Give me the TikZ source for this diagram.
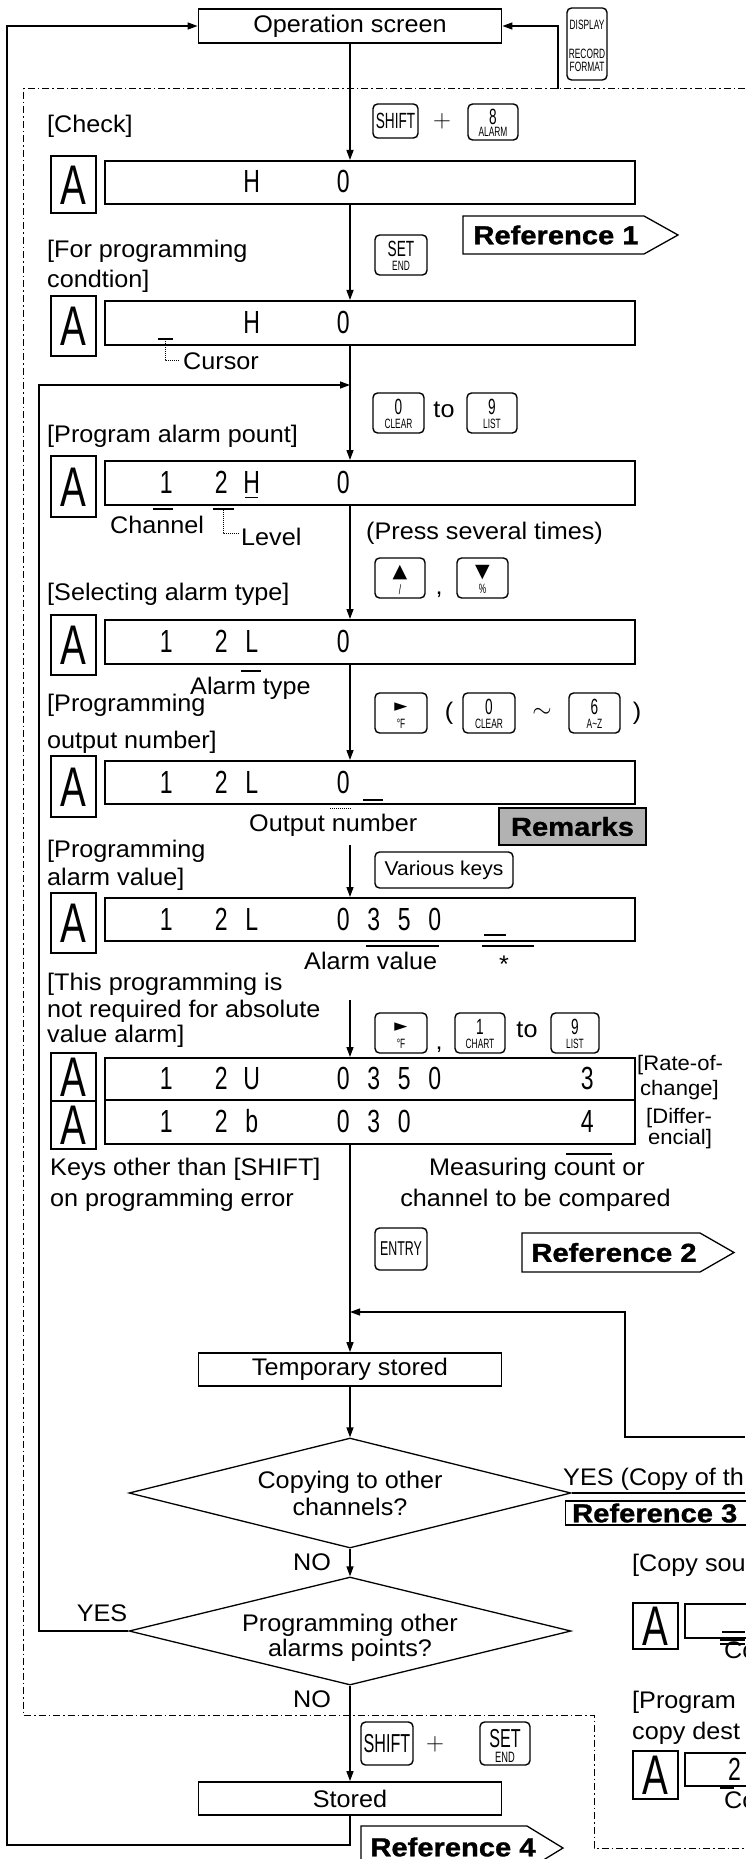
\documentclass[tikz,border=0pt]{standalone}
\usepackage{fontspec}
\usepackage{graphicx}
\setmainfont{Liberation Sans}[FakeStretch=1.05]
\newfontfamily\kf{Liberation Sans}[FakeStretch=0.62]
\newfontfamily\dispf{Liberation Sans}[FakeStretch=0.72]
\newfontfamily\afontf{Liberation Sans}[FakeStretch=0.92]
\newfontfamily\reff{Liberation Sans Bold}[FakeStretch=1.12,FakeBold=1.2]
\newfontfamily\symf{DejaVu Sans}
\usetikzlibrary{arrows.meta,shapes.geometric}
\newcommand\msz{\fontsize{24}{28}\selectfont}
\newcommand\ssz{\fontsize{21}{24}\selectfont}
\newcommand\vsz{\fontsize{20}{24}\selectfont}
\newcommand\dsz{\dispf\fontsize{32}{32}\selectfont}
\newcommand\asz{\afontf\fontsize{42}{42}\selectfont}
\newcommand\rsz{\reff\fontsize{26}{30}\selectfont}
\newcommand\kbig{\kf\fontsize{22}{22}\selectfont}
\newcommand\ksmall{\kf\fontsize{13.5}{13.5}\selectfont}
\newcommand\dcell[1]{\makebox[30.5pt]{#1}}
\newcommand\dcone{\makebox[30.5pt]{\hspace*{12pt}1}}
\newcommand\kkey[7]{%
  \node[keyb,minimum width=#4pt,minimum height=#5pt] (#1) at (#2,#3) {};
  \node[ktxt,font=\kbig] (#1t) at (#2,#3-0.14*#5) {#6};
  \node[ktxt,font=\ksmall] (#1b) at (#2,#3+0.28*#5) {#7};}
\newcommand\abx[4]{% name, x, top, height
  \node[abox,minimum height=#4pt] (#1) at (#2,#3) {};
  \node[atx] (#1t) at (#1.center) {\scalebox{1}[1.33]{A}};}
\begin{document}
\begin{tikzpicture}[x=1pt,y=-1pt,
  ln/.style={line width=1.3pt},
  conn/.style={line width=1.3pt,-{Triangle[length=10pt,width=7pt]}},
  bx/.style={draw,line width=1.8pt,minimum width=303pt,minimum height=33pt,font=\msz,inner sep=0pt},
  dbox/.style={draw,line width=1.8pt,anchor=north west,minimum width=530pt,inner sep=0pt},
  abox/.style={draw,line width=1.6pt,anchor=north west,minimum width=45pt,inner sep=0pt},
  atx/.style={inner sep=0pt,font=\asz,text height=40pt,text depth=0pt},
  dtx/.style={anchor=west,inner sep=0pt,font=\dsz,text height=23pt,text depth=0pt},
  keyb/.style={draw,line width=1.4pt,rounded corners=4.5pt,inner sep=0pt},
  ktxt/.style={inner sep=0pt},
  lb/.style={font=\msz,inner sep=0pt,anchor=west,text height=17pt,text depth=5pt},
  ct/.style={font=\msz,inner sep=0pt,text height=17pt,text depth=5pt},
  sl/.style={font=\ssz,inner sep=0pt,anchor=west,text height=15pt,text depth=4.5pt},
  dd/.style={line width=1pt,dash pattern=on 7pt off 3pt on 1.5pt off 3pt},
  mk/.style={line width=1.4pt},
  dl/.style={line width=0.8pt,dash pattern=on 1pt off 1pt},
  refb/.style={draw,line width=1.3pt,fill=white},
  rt/.style={font=\rsz,inner sep=0pt},
]
\fill[white] (0,0) rectangle (745,1859);
\useasboundingbox (0,0) rectangle (745,1859);

% dash-dot frame
\draw[dd] (745,89) -- (23,89) -- (23,1715) -- (594,1715) -- (594,1848) -- (745,1848);

% top
\node[bx,minimum height=34pt] (op) at (350,26) {Operation screen};
\node[keyb,minimum width=40pt,minimum height=72pt] (kd) at (587,44) {};
\node[ktxt,font=\kf\fontsize{13.5}{13.5}\selectfont] (kd1) at (587,25) {DISPLAY};
\node[ktxt,font=\kf\fontsize{13.5}{13.5}\selectfont] (kd2) at (587,54) {RECORD};
\node[ktxt,font=\kf\fontsize{13.5}{13.5}\selectfont] (kd3) at (587,67) {FORMAT};
\coordinate (dsp) at (558,89);
\draw[conn] (dsp) |- (op.east);

% check
\node[lb] (l1) at (47,127) {[Check]};
\node[keyb,minimum width=45pt,minimum height=34pt,font=\kf\fontsize{22}{22}\selectfont] (k1) at (395.5,121) {SHIFT};
\node[inner sep=0pt,font=\fontsize{30}{30}\selectfont] (p1) at (442,121) {$+$};
\kkey{k2}{493}{122}{50}{36}{8}{ALARM}

% displays
\node[dbox,minimum height=43pt] (d1) at (104,160) {};
\abx{a1}{50}{155}{57}
\node[dtx] (t1) at (144.75,181.5) {\dcell{}\dcell{}\dcell{}\dcell{H}\dcell{}\dcell{}\dcell{0}};

\draw[refb] (463,216) -- (644,216) -- (678,235) -- (644,254) -- (463,254) -- cycle;
\node[rt] (r1t) at (556,235) {Reference 1};

\node[lb] (l2a) at (47,252) {[For programming};
\node[lb] (l2b) at (47,282) {condtion]};
\kkey{k3}{401}{255}{52}{40}{SET}{END}

\node[dbox,minimum height=44pt] (d2) at (104,300) {};
\abx{a2}{50}{295}{60}
\node[dtx] (t2) at (144.75,322) {\dcell{}\dcell{}\dcell{}\dcell{H}\dcell{}\dcell{}\dcell{0}};
\draw[mk] (158,339) -- (173,339);
\draw[dl] (165,341) |- (180,360);
\node[lb] (lc) at (183,363) {Cursor};

\kkey{k4}{398.5}{413}{51}{40}{0}{CLEAR}
\node[ct] (to1) at (444,411) {to};
\kkey{k5}{492}{413}{50}{40}{9}{LIST}
\node[lb] (l3) at (47,436) {[Program alarm pount]};

\node[dbox,minimum height=44pt] (d3) at (104,460) {};
\abx{a3}{50}{455}{61}
\node[dtx] (t3) at (144.75,482) {\dcone\dcell{}\dcell{2}\dcell{H}\dcell{}\dcell{}\dcell{0}};
\draw[mk] (245,497.5) -- (258,497.5);
\draw[mk] (153,509) -- (173,509);
\draw[mk] (213,509) -- (234,509);
\draw[dl] (223,510) |- (240,533);
\node[lb] (lch) at (110,527) {Channel};
\node[lb] (llv) at (241,539) {Level};
\node[lb] (lps) at (366,533) {(Press several times)};
\kkey{k6}{400}{578}{50}{40}{{\symf\fontsize{19}{19}\selectfont ▲}}{/}
\node[ct] (cm1) at (439,588) {,};
\kkey{k7}{482.5}{578}{51}{40}{{\symf\fontsize{19}{19}\selectfont ▼}}{\%}
\node[lb] (l4) at (47,594) {[Selecting alarm type]};

\node[dbox,minimum height=44pt] (d4) at (104,619) {};
\abx{a4}{50}{614}{60}
\node[dtx] (t4) at (144.75,641) {\dcone\dcell{}\dcell{2}\dcell{L}\dcell{}\dcell{}\dcell{0}};
\draw[mk] (241,671) -- (261,671);
\node[lb] (lat) at (190,688) {Alarm type};
\node[lb] (l5a) at (47,705) {[Programming};
\node[lb] (l5b) at (47,742) {output number]};
\kkey{k8}{401}{713}{52}{40}{{\symf\fontsize{17}{17}\selectfont ►}}{°F}
\node[ct] (pa) at (449,713) {(};
\kkey{k9}{489}{713}{52}{40}{0}{CLEAR}
\node[inner sep=0pt,font=\fontsize{26}{26}\selectfont] (tl) at (542,713) {$\sim$};
\kkey{k10}{594.5}{713}{51}{40}{6}{A\textasciitilde Z}
\node[ct] (pb) at (637,713) {)};

\node[dbox,minimum height=43pt] (d5) at (104,760) {};
\abx{a5}{50}{755}{61}
\node[dtx] (t5) at (144.75,781.5) {\dcone\dcell{}\dcell{2}\dcell{L}\dcell{}\dcell{}\dcell{0}};
\draw[mk] (363,800) -- (383,800);
\draw[dl] (330,808) -- (352,808);
\node[lb] (lon) at (249,825) {Output number};
\node[draw,fill=black!30,line width=1.3pt,minimum width=147pt,minimum height=37pt,inner sep=0pt,font=\rsz] (rem) at (572.5,826.5) {Remarks};
\node[lb] (l6a) at (47,851) {[Programming};
\node[lb] (l6b) at (47,879) {alarm value]};
\node[keyb,minimum width=138pt,minimum height=36pt,font=\vsz] (k11) at (444,870) {Various keys};
\coordinate (c6) at (350,845);

\node[dbox,minimum height=43pt] (d6) at (104,897) {};
\abx{a6}{50}{892}{60}
\node[dtx] (t6) at (144.75,918.5) {\dcone\dcell{}\dcell{2}\dcell{L}\dcell{}\dcell{}\dcell{0}\dcell{3}\dcell{5}\dcell{0}};
\draw[mk] (484,935) -- (506,935);
\draw[mk] (366,946) -- (439,946);
\draw[mk] (482,946) -- (534,946);
\node[lb] (lav) at (304,963) {Alarm value};
\node[ct] (ast) at (504,966) {*};
\node[lb] (l7a) at (47,984) {[This programming is};
\node[lb] (l7b) at (47,1011) {not required for absolute};
\node[lb] (l7c) at (47,1036) {value alarm]};
\coordinate (c7) at (350,1000);
\kkey{k12}{401}{1033}{52}{40}{{\symf\fontsize{17}{17}\selectfont ►}}{°F}
\node[ct] (cm2) at (439,1043) {,};
\kkey{k13}{480}{1033}{50}{40}{1}{CHART}
\node[ct] (to2) at (527,1031) {to};
\kkey{k14}{575}{1033}{48}{40}{9}{LIST}

\node[dbox,minimum height=42pt] (d7) at (104,1057) {};
\abx{a7}{50}{1052}{48}
\node[dtx] (t7) at (144.75,1078) {\dcone\dcell{}\dcell{2}\dcell{U}\dcell{}\dcell{}\dcell{0}\dcell{3}\dcell{5}\dcell{0}\dcell{}\dcell{}\dcell{}\dcell{}\dcell{3}};
\node[dbox,minimum height=44pt] (d8) at (104,1099) {};
\abx{a8}{50}{1100}{48}
\node[dtx] (t8) at (144.75,1121) {\dcone\dcell{}\dcell{2}\dcell{b}\dcell{}\dcell{}\dcell{0}\dcell{3}\dcell{0}\dcell{}\dcell{}\dcell{}\dcell{}\dcell{}\dcell{4}};
\node[sl] (lr1) at (637,1065) {[Rate-of-};
\node[sl] (lr2) at (640,1090) {change]};
\node[sl] (ld1) at (646,1118) {[Differ-};
\node[sl] (ld2) at (648,1139) {encial]};

\node[lb] (l8a) at (50,1169) {Keys other than [SHIFT]};
\node[lb] (l8b) at (50,1200) {on programming error};
\node[ct] (lm1) at (537,1169) {Measuring c\rlap{\raisebox{20.5pt}{\rule{46pt}{1.4pt}}}ount or};
\node[ct] (lm2) at (535.5,1200) {channel to be compared};
\node[keyb,minimum width=52pt,minimum height=42pt,font=\kf\fontsize{20}{20}\selectfont] (k15) at (401,1249) {ENTRY};
\draw[refb] (522,1233) -- (700,1233) -- (734,1252.5) -- (700,1272) -- (522,1272) -- cycle;
\node[rt] (r2t) at (614,1252.5) {Reference 2};

% lower flow
\node[bx] (ts) at (350,1369.5) {Temporary stored};
\node[draw,diamond,line width=1.3pt,minimum width=442pt,minimum height=110pt,inner sep=0pt] (dm1) at (350,1493) {};
\node[ct] (dm1a) at (350,1482) {Copying to other};
\node[ct] (dm1b) at (350,1509) {channels?};
\node[draw,diamond,line width=1.3pt,minimum width=442pt,minimum height=108pt,inner sep=0pt] (dm2) at (350,1631) {};
\node[ct] (dm2a) at (350,1625) {Programming other};
\node[ct] (dm2b) at (350,1650) {alarms points?};
\node[ct] (no1) at (312,1564) {NO};
\node[ct] (no2) at (312,1701) {NO};
\node[ct] (yes) at (102,1615) {YES};
\node[bx] (st) at (350,1798.5) {Stored};
\node[keyb,minimum width=52pt,minimum height=43pt,font=\kf\fontsize{26}{26}\selectfont] (k16) at (387,1743.5) {SHIFT};
\node[inner sep=0pt,font=\fontsize{27}{27}\selectfont] (p2) at (435,1744) {$+$};
\node[keyb,minimum width=50pt,minimum height=43pt] (k17) at (505,1743.5) {};
\node[ktxt,font=\kf\fontsize{26}{26}\selectfont] (k17t) at (505,1739) {SET};
\node[ktxt,font=\kf\fontsize{15}{15}\selectfont] (k17b) at (505,1757.5) {END};
\draw[refb] (361,1826) -- (527,1826) -- (563,1848) -- (527,1870) -- (361,1870) -- cycle;
\node[rt] (r4t) at (453,1847) {Reference 4};

% right cut-off part
\node[lb] (ly) at (563,1479) {YES (Copy of th};
\node[draw,line width=1.3pt,anchor=west,minimum width=200pt,minimum height=24pt,inner sep=0pt] (r3) at (565,1513) {};
\node[rt,anchor=west] (r3t) at (572,1513) {Reference 3};
\node[lb] (lcs) at (632,1565) {[Copy sou};
\abx{a9}{632}{1602}{46}
\node[dbox,minimum width=100pt,minimum height=34pt] (d9) at (684,1603) {};
\draw[mk] (722,1632) -- (745,1632);
\draw[mk] (720,1640) -- (745,1640);
\draw[mk] (720,1644) -- (745,1644);
\node[lb] (lcp) at (724,1652) {Copy};
\node[lb] (lpg) at (632,1702) {[Program};
\node[lb] (lcd) at (632,1733) {copy dest};
\abx{a10}{632}{1750}{48}
\node[dbox,minimum width=100pt,minimum height=33pt] (d10) at (684,1752) {};
\node[dtx] (t10) at (728,1768.5) {2};
\draw[mk] (720,1788) -- (734,1788);
\node[lb] (lcp2) at (724,1802) {Cop};

% connectors
\draw[conn] (op.south) -- (op.south |- d1.north);
\draw[conn] (op.south |- d1.south) -- (op.south |- d2.north);
\draw[conn] (op.south |- d2.south) -- (op.south |- d3.north);
\draw[conn] (op.south |- d3.south) -- (op.south |- d4.north);
\draw[conn] (op.south |- d4.south) -- (op.south |- d5.north);
\draw[conn] (c6) -- (op.south |- d6.north);
\draw[conn] (c7) -- (op.south |- d7.north);
\draw[conn] (op.south |- d8.south) -- (ts.north);
\draw[conn] (ts.south) -- (dm1.north);
\draw[conn] (dm1.south) -- (dm2.north);
\draw[conn] (dm2.south) -- (st.north);
\coordinate (yl) at (39,385);
\draw[conn] (dm2.west) -| (yl) -- (op.south |- yl);
\coordinate (ol) at (7,1845);
\draw[conn] (st.south) |- (ol) |- (op.west);
\coordinate (rr) at (745,1437);
\coordinate (rj) at (350,1312);
\draw[conn] (rr) -- (625,1437) -- (625,1312) -- (rj);
\coordinate (ry) at (745,1493);
\draw[ln] (dm1.east) -- (ry);
\end{tikzpicture}
\end{document}
